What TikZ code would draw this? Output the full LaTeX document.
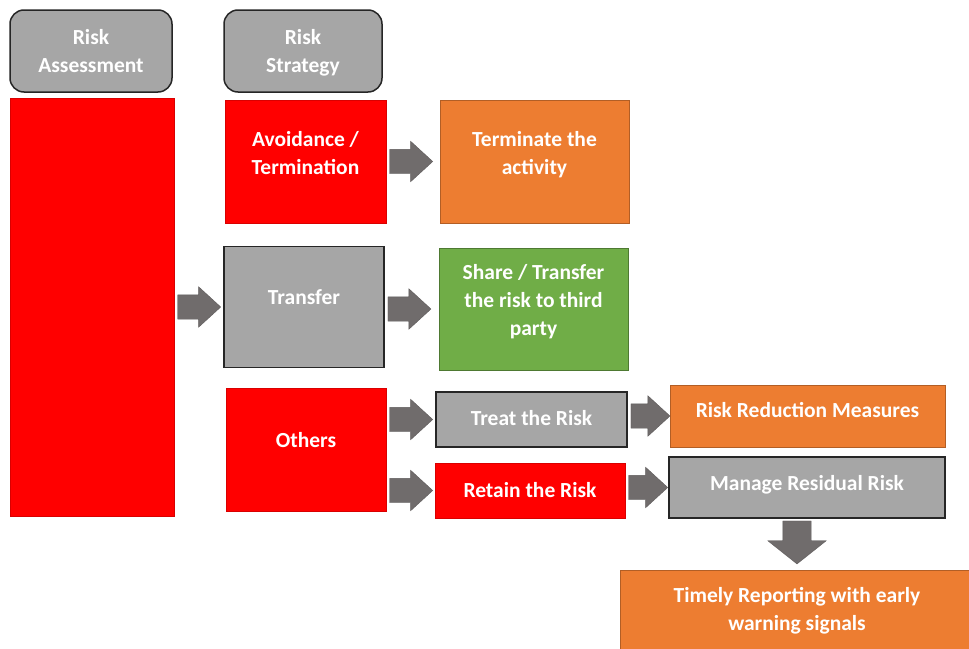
\documentclass[tikz,border=0pt]{standalone}
\usepackage{fontspec}
\setmainfont{Carlito}
\usetikzlibrary{shapes.arrows,calc}
\definecolor{riskred}{HTML}{FF0000}
\definecolor{riskgrey}{HTML}{A6A6A6}
\definecolor{riskorange}{HTML}{ED7D31}
\definecolor{riskgreen}{HTML}{70AD47}
\definecolor{arrowgrey}{HTML}{706C6C}
\newcommand\barrow[3]{\node[blockarrow, anchor=tail, minimum height=#3, xshift=3pt] (#1to#2) at (#1.east |- #2.west) {};}
\newcommand\lift[1]{\\[#1]\mbox{}}
\begin{document}
\begin{tikzpicture}[x=1pt, y=-1pt,
  box/.style={rectangle, text=white, align=center, inner sep=0pt, line width=1pt,
    font=\bfseries\fontsize{21.5}{28}\selectfont},
  size/.style 2 args={minimum width=#1pt, minimum height=#2pt},
  redbox/.style={box, fill=riskred, draw=riskred!85!black},
  greybox/.style={box, fill=riskgrey, draw=black!85, line width=1.5pt},
  orangebox/.style={box, fill=riskorange, draw=riskorange!75!black},
  greenbox/.style={box, fill=riskgreen, draw=riskgreen!70!black},
  headbox/.style={greybox, rounded corners=14pt},
  blockarrow/.style={single arrow, fill=arrowgrey, draw=arrowgrey!85!black, line width=0.4pt,
    inner xsep=0pt, inner ysep=12pt, single arrow head extend=8pt, single arrow tip angle=85}]
  \fill[white] (0,0) rectangle (969,648);
  \useasboundingbox (0,0) rectangle (969,648);

  \node[headbox, size={162}{82}] (assess) at (91,51) {Risk\\Assessment};
  \node[headbox, size={158}{82}] (strategy) at (303,51) {Risk\\\smash{Strategy}};
  \node[redbox, size={164}{418}] (body) at (92,307) {};

  \node[redbox, size={161}{123}] (avoid) at (305.5,161.5) {Avoidance /\\Termination\lift{-10pt}};
  \node[greybox, size={160}{121}] (transfer) at (304,307) {Transfer\lift{-8pt}};
  \node[redbox, size={160}{123}] (others) at (306,449.5) {Others\lift{-8pt}};

  \node[orangebox, size={189}{123}] (terminate) at (534.5,161.5) {Terminate the\\activity\lift{-10pt}};
  \node[greenbox, size={189}{122}] (share) at (533.5,309) {Share / Transfer\\the risk to third\\party\lift{-10pt}};
  \node[greybox, size={191}{55}] (treat) at (531.5,419.5) {Treat the Risk\lift{-24pt}};
  \node[redbox, size={190}{55}] (retain) at (530,490.5) {Retain the Risk\lift{-26pt}};

  \node[orangebox, size={275}{62}] (reduce) at (807.5,416) {Risk Reduction Measures\lift{-16pt}};
  \node[greybox, size={276}{61}] (manage) at (807,487.5) {Manage Residual Risk\lift{-18pt}};
  \node[orangebox, size={354}{82}] (timely) at (797,611) {Timely Reporting with early\\warning signals};

  \barrow{body}{transfer}{43pt}
  \barrow{avoid}{terminate}{43pt}
  \barrow{transfer}{share}{43pt}
  \barrow{others}{treat}{43pt}
  \barrow{others}{retain}{43pt}
  \barrow{treat}{reduce}{39pt}
  \barrow{retain}{manage}{39pt}
  \node[blockarrow, rotate=-90, anchor=tail, minimum height=43pt, inner ysep=14pt,
    single arrow head extend=15pt, single arrow tip angle=103] (managetotimely)
    at ($(timely.north |- manage.south)+(0,2)$) {};
\end{tikzpicture}
\end{document}
